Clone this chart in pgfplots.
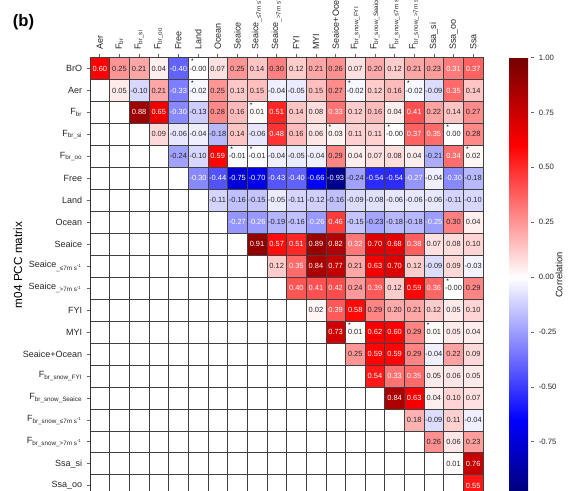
\documentclass[border=0pt]{standalone}
\usepackage{fontspec}
\setmainfont{Liberation Sans}
\usepackage{pgfplots}
\usepackage{pgfplotstable}
\pgfplotsset{compat=1.18}
\pgfdeclareplotmark{cell}{\pgfpathrectangle{\pgfqpoint{-7.36875pt}{-8.235pt}}{\pgfqpoint{14.7375pt}{16.47pt}}\pgfusepathqfillstroke}
\pgfplotstableread{
x y v
0 0 0.60
1 0 0.25
2 0 0.21
3 0 0.04
4 0 -0.40
5 0 -0.00
6 0 0.07
7 0 0.25
8 0 0.14
9 0 0.30
10 0 0.12
11 0 0.21
12 0 0.26
13 0 0.07
14 0 0.20
15 0 0.12
16 0 0.21
17 0 0.23
18 0 0.31
19 0 0.37
1 1 0.05
2 1 -0.10
3 1 0.21
4 1 -0.33
5 1 -0.02
6 1 0.25
7 1 0.13
8 1 0.15
9 1 -0.04
10 1 -0.05
11 1 0.15
12 1 0.27
13 1 -0.02
14 1 0.12
15 1 0.16
16 1 -0.02
17 1 -0.09
18 1 0.35
19 1 0.14
2 2 0.88
3 2 0.65
4 2 -0.30
5 2 -0.13
6 2 0.28
7 2 0.16
8 2 0.01
9 2 0.51
10 2 0.14
11 2 0.08
12 2 0.33
13 2 0.12
14 2 0.16
15 2 0.04
16 2 0.41
17 2 0.22
18 2 0.14
19 2 0.27
3 3 0.09
4 3 -0.06
5 3 -0.04
6 3 -0.18
7 3 0.14
8 3 -0.06
9 3 0.48
10 3 0.16
11 3 0.06
12 3 0.03
13 3 0.11
14 3 0.11
15 3 -0.00
16 3 0.37
17 3 0.35
18 3 0.00
19 3 0.28
4 4 -0.24
5 4 -0.10
6 4 0.59
7 4 -0.01
8 4 -0.01
9 4 -0.04
10 4 -0.05
11 4 -0.04
12 4 0.29
13 4 0.04
14 4 0.07
15 4 0.08
16 4 0.04
17 4 -0.21
18 4 0.34
19 4 0.02
5 5 -0.30
6 5 -0.44
7 5 -0.75
8 5 -0.70
9 5 -0.43
10 5 -0.40
11 5 -0.66
12 5 -0.93
13 5 -0.24
14 5 -0.54
15 5 -0.54
16 5 -0.27
17 5 -0.04
18 5 -0.30
19 5 -0.18
6 6 -0.11
7 6 -0.16
8 6 -0.15
9 6 -0.05
10 6 -0.11
11 6 -0.12
12 6 -0.16
13 6 -0.09
14 6 -0.08
15 6 -0.06
16 6 -0.06
17 6 -0.06
18 6 -0.11
19 6 -0.10
7 7 -0.27
8 7 -0.26
9 7 -0.19
10 7 -0.16
11 7 -0.26
12 7 0.46
13 7 -0.15
14 7 -0.23
15 7 -0.18
16 7 -0.18
17 7 -0.25
18 7 0.30
19 7 0.04
8 8 0.91
9 8 0.57
10 8 0.51
11 8 0.89
12 8 0.82
13 8 0.32
14 8 0.70
15 8 0.68
16 8 0.38
17 8 0.07
18 8 0.08
19 8 0.10
9 9 0.12
10 9 0.35
11 9 0.84
12 9 0.77
13 9 0.21
14 9 0.63
15 9 0.70
16 9 0.12
17 9 -0.09
18 9 0.09
19 9 -0.03
10 10 0.40
11 10 0.41
12 10 0.42
13 10 0.24
14 10 0.39
15 10 0.12
16 10 0.59
17 10 0.36
18 10 -0.00
19 10 0.29
11 11 0.02
12 11 0.39
13 11 0.58
14 11 0.29
15 11 0.20
16 11 0.21
17 11 0.12
18 11 0.05
19 11 0.10
12 12 0.73
13 12 0.01
14 12 0.62
15 12 0.60
16 12 0.29
17 12 0.01
18 12 0.05
19 12 0.04
13 13 0.25
14 13 0.59
15 13 0.59
16 13 0.29
17 13 -0.04
18 13 0.22
19 13 0.09
14 14 0.54
15 14 0.33
16 14 0.35
17 14 0.05
18 14 0.06
19 14 0.05
15 15 0.84
16 15 0.63
17 15 0.04
18 15 0.10
19 15 0.07
16 16 0.18
17 16 -0.09
18 16 0.11
19 16 -0.04
17 17 0.26
18 17 0.06
19 17 0.23
18 18 0.01
19 18 0.76
19 19 0.55
}\cells
\pgfplotstableread{
x y
5 0
5 1
13 1
16 1
8 2
12 3
15 3
18 3
7 4
8 4
19 4
18 10
13 12
17 12
}\stars
\pgfplotsset{
  valtext/.style={draw=none, mark=none,
    point meta=explicit symbolic,
    nodes near coords={\pgfplotspointmeta},
    every node near coord/.append style={anchor=center, text=#1, font=\fontsize{5.6}{6}\selectfont, inner sep=0pt}},
}
\begin{document}
\begin{tikzpicture}
\begin{axis}[
  at={(67.5pt,-43.125pt)}, anchor=north west,
  scale only axis, width=294.75pt, height=329.4pt,
  xmin=-0.5, xmax=19.5, ymin=-0.5, ymax=19.5,
  y dir=reverse, enlargelimits=false,
  colormap={pcc}{rgb(0pt)=(0,0,0.45); rgb(35pt)=(0,0,1); rgb(100pt)=(1,1,1); rgb(160pt)=(1,0,0); rgb(200pt)=(0.45,0,0)},
  point meta min=-1, point meta max=1,
  xtick={0,...,19}, ytick={0,...,19},
  xtick pos=right, xticklabel pos=right,
  ytick pos=left, yticklabel pos=left,
  tick align=outside, major tick length=2.3pt,
  tick style={black!60, line width=0.5pt},
  minor xtick={0.5,1.5,...,18.5}, minor ytick={0.5,1.5,...,18.5},
  minor tick length=0pt,
  xminorgrids, yminorgrids,
  minor grid style={black!75, line width=0.45pt},
  axis line style={black!80, line width=0.5pt},
  ticklabel style={font=\fontsize{6.75}{7}\selectfont, text=black!85},
  xticklabel style={rotate=90, anchor=west},
  xticklabels={Aer, F\textsubscript{br}, F\textsubscript{br\_si}, F\textsubscript{br\_oo}, Free, Land, Ocean, Seaice,
    Seaice\textsubscript{\_≤7m s\textsuperscript{-1}}, Seaice\textsubscript{\_>7m s\textsuperscript{-1}},
    FYI, MYI, Seaice+Ocean, F\textsubscript{br\_snow\_FYI}, F\textsubscript{br\_snow\_Seaice},
    F\textsubscript{br\_snow\_≤7m s\textsuperscript{-1}}, F\textsubscript{br\_snow\_>7m s\textsuperscript{-1}},
    Ssa\_si, Ssa\_oo, Ssa},
  yticklabels={BrO, Aer, F\textsubscript{br}, F\textsubscript{br\_si}, F\textsubscript{br\_oo}, Free, Land, Ocean, Seaice,
    Seaice\textsubscript{\_≤7m s\textsuperscript{-1}}, Seaice\textsubscript{\_>7m s\textsuperscript{-1}},
    FYI, MYI, Seaice+Ocean, F\textsubscript{br\_snow\_FYI}, F\textsubscript{br\_snow\_Seaice},
    F\textsubscript{br\_snow\_≤7m s\textsuperscript{-1}}, F\textsubscript{br\_snow\_>7m s\textsuperscript{-1}},
    Ssa\_si, Ssa\_oo},
  colorbar right,
  colorbar style={
    at={(parent axis.north east)}, anchor=north west, xshift=11pt,
    scale only axis, width=16.5pt, height=329.4pt,
    ytick={-0.75,-0.5,-0.25,0,0.25,0.5,0.75,1},
    yticklabels={-0.75,-0.50,-0.25,0.00,0.25,0.50,0.75,1.00},
    yticklabel style={font=\fontsize{5.8}{6}\selectfont, text=black!85},
    ytick pos=right, yticklabel pos=right,
    tick align=outside, major tick length=2.3pt,
    tick style={black!60, line width=0.5pt},
    axis line style={draw=none},
  },
]
\addplot[scatter, only marks, mark=cell, line width=0.45pt,
  scatter/use mapped color={draw=black!75, fill=mapped color},
  point meta=explicit] table[x=x, y=y, meta=v] {\cells};
\addplot[valtext=black!85, restrict expr to domain={\thisrow{v}}{-0.245:0.305}]
  table[x=x, y=y, meta=v] {\cells};
\addplot[valtext=white, restrict expr to domain={\thisrow{v}}{0.305:1}]
  table[x=x, y=y, meta=v] {\cells};
\addplot[valtext=white, restrict expr to domain={\thisrow{v}}{-1:-0.245}]
  table[x=x, y=y, meta=v] {\cells};
\addplot[draw=none, mark=none,
  nodes near coords={*},
  every node near coord/.append style={anchor=center, text=black, font=\fontsize{5}{5}\selectfont, inner sep=0pt, xshift=-4.3pt, yshift=5.4pt}]
  table[x=x, y=y] {\stars};
\end{axis}
\node[font=\bfseries\fontsize{12.5}{14}\selectfont] at (17.6pt,-16.5pt) {(b)};
\node[rotate=90, font=\fontsize{8.8}{10}\selectfont] at (13.5pt,-198.75pt) {m04 PCC matrix};
\node[rotate=90, font=\fontsize{7}{8}\selectfont, text=black!90] at (419.25pt,-206.25pt) {Correlation};
\pgfresetboundingbox
\useasboundingbox (0,0) rectangle (426pt,-368.25pt);
\end{tikzpicture}
\end{document}
